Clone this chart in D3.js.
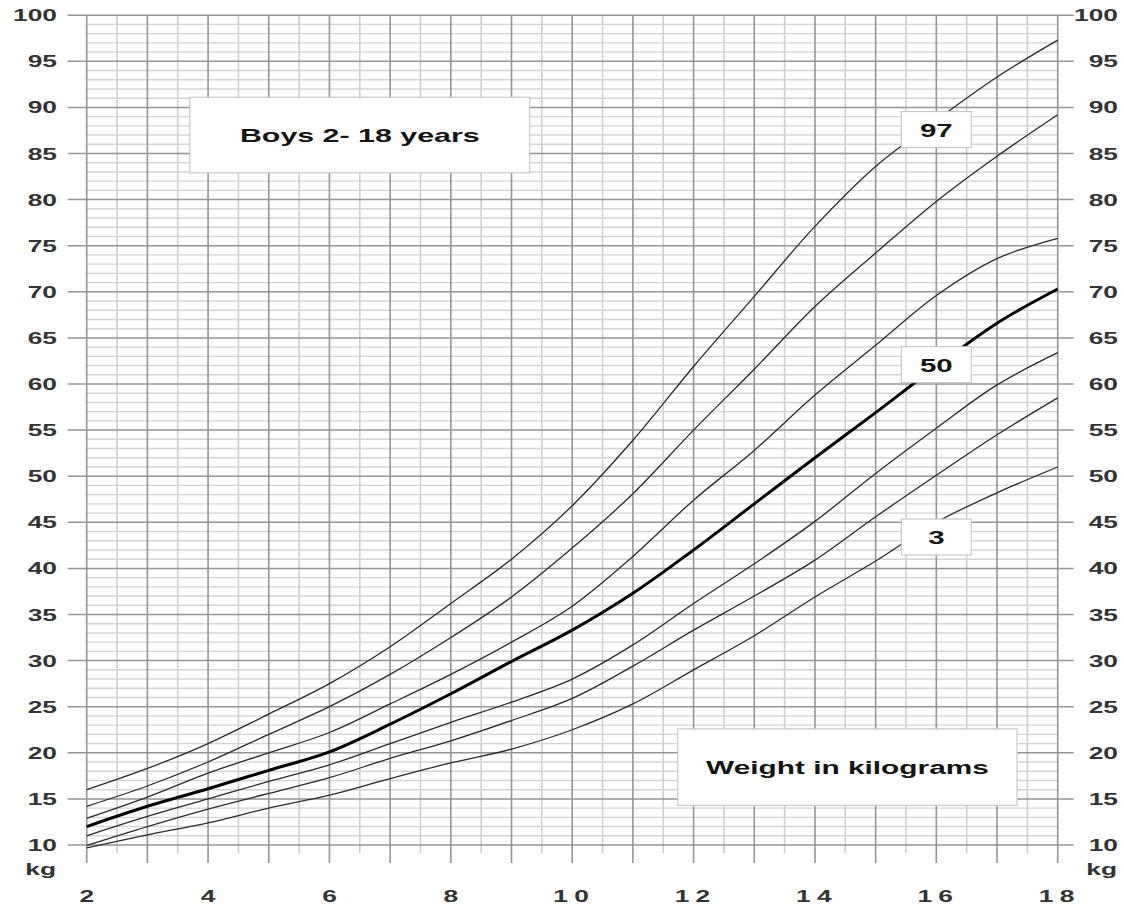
<!DOCTYPE html>
<html>
<head>
<meta charset="utf-8">
<script src="https://cdn.jsdelivr.net/npm/d3@7"></script>
<style>
  html, body { margin: 0; padding: 0; background: #fff; }
  svg { display: block; }
  text { font-family: "Liberation Sans", Arial, Helvetica, sans-serif; font-weight: bold; }
</style>
</head>
<body>
<svg id="chart" width="1124" height="907"></svg>
<script>
// ---- data ----
const ages = [2, 3, 4, 5, 6, 7, 8, 9, 10, 11, 12, 13, 14, 15, 16, 17, 18];
const p97 = [16.0, 18.3, 21.0, 24.2, 27.5, 31.5, 36.2, 41.0, 46.8, 53.9, 61.9, 69.5, 77.1, 83.6, 88.6, 93.3, 97.3];
const p90 = [14.2, 16.4, 19.0, 22.0, 25.0, 28.5, 32.5, 36.9, 42.2, 48.1, 55.0, 61.6, 68.4, 74.2, 79.8, 84.7, 89.2];
const p75 = [12.9, 15.2, 17.8, 20.0, 22.2, 25.3, 28.5, 32.0, 35.9, 41.3, 47.4, 52.8, 58.8, 64.2, 69.6, 73.6, 75.8];
const p50 = [12.0, 14.2, 16.1, 18.1, 20.1, 23.1, 26.4, 29.9, 33.3, 37.3, 42.0, 47.0, 52.0, 56.9, 61.9, 66.6, 70.3];
const p25 = [11.0, 13.1, 15.0, 16.9, 18.7, 21.0, 23.3, 25.5, 28.0, 31.7, 36.2, 40.5, 45.1, 50.3, 55.2, 59.9, 63.4];
const p10 = [9.95, 12.0, 13.9, 15.6, 17.3, 19.4, 21.3, 23.5, 25.9, 29.4, 33.3, 37.0, 40.9, 45.6, 50.1, 54.5, 58.5];
const p3  = [9.7, 11.1, 12.4, 14.0, 15.4, 17.2, 18.9, 20.4, 22.5, 25.3, 29.0, 32.7, 36.9, 40.8, 45.0, 48.2, 51.0];
const seriesNames = ["97", "90", "75", "50", "25", "10", "3"];
const seriesValues = [p97, p90, p75, p50, p25, p10, p3];

const xTicks = [2, 4, 6, 8, 10, 12, 14, 16, 18];
const yTicks = [10, 15, 20, 25, 30, 35, 40, 45, 50, 55, 60, 65, 70, 75, 80, 85, 90, 95, 100];
const yUnit = "kg";
const titleText = "Boys 2- 18 years";
const axisText = "Weight in kilograms";
// percentile label boxes: [label, age, kg]
const pctLabels = [["97", 16, 87.6], ["50", 16, 62.1], ["3", 16, 43.4]];

// ---- layout ----
const svg = d3.select("#chart");
const x = d3.scaleLinear().domain([2, 18]).range([86.7, 1057.7]);
const y = d3.scaleLinear().domain([10, 100]).range([845, 15.2]);
const SX = 1.55; // horizontal stretch of the original lettering

// grid: minor verticals (half years)
const g = svg.append("g");
const halfYears = d3.range(2.5, 18, 1);
g.selectAll("line.vminor").data(halfYears).join("line")
  .attr("x1", d => x(d)).attr("x2", d => x(d))
  .attr("y1", y(100)).attr("y2", y(10) + 8)
  .attr("stroke", "#cfcfcf").attr("stroke-width", 1.6);

// minor horizontals (every kg)
const kgMinor = d3.range(11, 100, 1).filter(d => d % 5 !== 0);
g.selectAll("line.hminor").data(kgMinor).join("line")
  .attr("x1", x(2)).attr("x2", x(18))
  .attr("y1", d => y(d)).attr("y2", d => y(d))
  .attr("stroke", "#d4d4d4").attr("stroke-width", 1.4);

// major verticals (every year)
const years = d3.range(2, 19, 1);
g.selectAll("line.vmajor").data(years).join("line")
  .attr("x1", d => x(d)).attr("x2", d => x(d))
  .attr("y1", y(100)).attr("y2", y(10) + 18)
  .attr("stroke", "#959595").attr("stroke-width", 1.6);

// major horizontals (every 5 kg)
g.selectAll("line.hmajor").data(yTicks).join("line")
  .attr("x1", x(2) - 19).attr("x2", x(18) + 16)
  .attr("y1", d => y(d)).attr("y2", d => y(d))
  .attr("stroke", "#959595").attr("stroke-width", 1.5);

// curves
const line = d3.line().x(d => x(d[0])).y(d => y(d[1])).curve(d3.curveCatmullRom.alpha(0.5));
seriesValues.forEach((vals, i) => {
  const pts = ages.map((a, j) => [a, vals[j]]);
  svg.append("path")
    .attr("d", line(pts))
    .attr("fill", "none")
    .attr("stroke", seriesNames[i] === "50" ? "#000" : "#2a2a2a")
    .attr("stroke-width", seriesNames[i] === "50" ? 3 : 1.3)
    .attr("stroke-linejoin", "round");
});

// stretched text helper
function stext(parent, tx, ty, str, size, anchor, sx, fill, ls) {
  const t = parent.append("text")
    .attr("transform", `translate(${tx},${ty}) scale(${sx},1)`)
    .attr("text-anchor", anchor)
    .attr("font-size", size)
    .attr("fill", fill)
    .text(str);
  if (ls) t.attr("letter-spacing", ls);
  return t;
}

// y tick labels (left and right)
const lab = svg.append("g");
yTicks.forEach(v => {
  stext(lab, 57, y(v) + 6, String(v), 17, "end", SX, "#333");
  stext(lab, 1118, y(v) + 6, String(v), 17, "end", SX, "#333");
});
stext(lab, 56, 875, yUnit, 17, "end", SX, "#333");
stext(lab, 1117, 875, yUnit, 17, "end", SX, "#333");

// x tick labels
xTicks.forEach(v => {
  const s = String(v);
  stext(lab, x(v) + (s.length > 1 ? 2 : 0), 902, s, 17, "middle", SX, "#333", s.length > 1 ? 4 : null);
});

// annotation boxes
function box(x0, y0, x1, y1) {
  svg.append("rect")
    .attr("x", x0).attr("y", y0)
    .attr("width", x1 - x0).attr("height", y1 - y0)
    .attr("fill", "#fff").attr("stroke", "#c8c8c8").attr("stroke-width", 1.2);
}
// title box
box(x(3.70), y(91.1), x(9.30), y(82.9));
stext(svg, (x(3.70) + x(9.30)) / 2, y(87) + 7, titleText, 19, "middle", 1.6, "#141414");
// weight box
box(x(11.74), y(22.6), x(17.33), y(14.3));
stext(svg, (x(11.74) + x(17.33)) / 2, y(18.45) + 7, axisText, 19, "middle", 1.57, "#141414");

// percentile label boxes
pctLabels.forEach(([t, a, k]) => {
  const cx = x(a), cy = y(k);
  box(cx - 35, cy - 18, cx + 35, cy + 18);
  stext(svg, cx, cy + 7, t, 19, "middle", 1.55, "#141414");
});
</script>
</body>
</html>
